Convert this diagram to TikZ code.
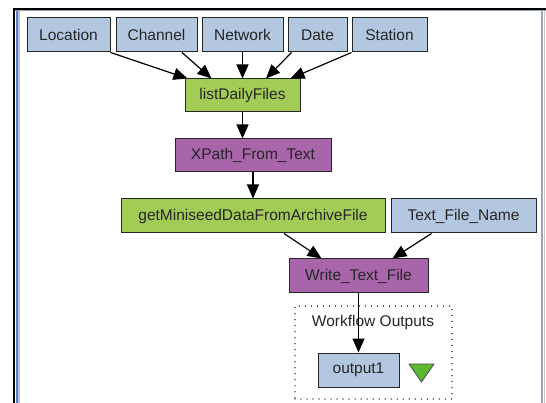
\documentclass[tikz,border=0pt]{standalone}
\usepackage{fontspec}
\setmainfont{Liberation Sans}
\usetikzlibrary{arrows.meta,calc}
\definecolor{inblue}{HTML}{B3C7E0}
\definecolor{procgreen}{HTML}{A3CC57}
\definecolor{procpurple}{HTML}{A865AA}
\definecolor{trigreen}{HTML}{5CB82E}
\definecolor{framegrey}{HTML}{9AA4B2}
\definecolor{frameblue}{HTML}{5A7BD0}
\tikzset{
  box/.style={draw=black!85, line width=1pt, minimum height=34pt, inner sep=0pt, font=\fontsize{15.5}{17}\selectfont, text=black!85},
  inbox/.style={box, fill=inblue},
  gbox/.style={box, fill=procgreen},
  pbox/.style={box, fill=procpurple},
  link/.style={line width=1.2pt, -{Triangle[length=14pt,width=12pt]}},
}
\begin{document}
\begin{tikzpicture}[x=1pt,y=-1pt]
\useasboundingbox (0,0) rectangle (546,403);
% window frame
\fill[white] (14,9) rectangle (542,403);
\draw[line width=2.5pt, black] (13,9) -- (546,9);
\draw[line width=1pt, framegrey] (15,11) -- (546,11);
\draw[line width=2pt, black] (14,9) -- (14,403);
\draw[line width=2pt, frameblue] (16.5,11) -- (16.5,403);
\draw[line width=2pt, framegrey!70] (19,11) -- (19,403);
\draw[line width=1.5pt, framegrey] (542,11) -- (542,403);
\draw[line width=1.2pt, framegrey!60] (544.5,11) -- (544.5,403);

% input nodes
\node[inbox, minimum width=83pt] (loc) at (68.5,35) {Location};
\node[inbox, minimum width=81pt] (chan) at (156.5,35) {Channel};
\node[inbox, minimum width=81pt] (net) at (242.5,35) {Network};
\node[inbox, minimum width=59pt] (date) at (317.5,35) {Date};
\node[inbox, minimum width=75pt] (stat) at (389.5,35) {Station};

\node[gbox, minimum width=115pt, minimum height=33pt] (ldf) at (242.5,95.5) {listDailyFiles};
\node[pbox, minimum width=156pt, minimum height=33pt] (xp) at (253,155.5) {XPath\_From\_Text};
\node[gbox, minimum width=264pt] (gm) at (253,216) {getMiniseedDataFromArchiveFile};
\node[inbox, minimum width=145pt] (tfn) at (463.5,216) {Text\_File\_Name};
\node[pbox, minimum width=139pt] (wtf) at (358.5,276) {Write\_Text\_File};

% workflow outputs
\node[draw=black!80, line width=1.2pt, dash pattern=on 0.01pt off 6pt, line cap=round, minimum width=157pt, minimum height=93pt, inner sep=0pt] (wo) at (373.5,352.5) {};
\node[font=\fontsize{15.5}{17}\selectfont, text=black!85] (wol) at (373,322) {Workflow Outputs};
\node[inbox, minimum width=81pt] (out) at (358.5,370) {output1};
\coordinate (t1) at (409,364);
\coordinate (t2) at (434,364);
\coordinate (t3) at (421.5,382);
\filldraw[fill=trigreen, draw=black!70, line width=0.8pt, line join=round] (t1) -- (t2) -- (t3) -- cycle;

% connectors
\draw[link] (loc.south east) -- ([xshift=3pt]ldf.north west);
\draw[link] ([xshift=25.5pt]chan.south) -- ([xshift=27pt]ldf.north west);
\draw[link] (net.south) -- (ldf.north);
\draw[link] ([xshift=4pt]date.south west) -- ([xshift=23.5pt]ldf.north);
\draw[link] (stat.south west) -- ([xshift=-10pt]ldf.north east);
\draw[link] (ldf.south) -- ([xshift=-10.5pt]xp.north);
\draw[link] (xp.south) -- (gm.north);
\draw[link] ([xshift=31pt]gm.south) -- ([xshift=33pt]wtf.north west);
\draw[link] ([xshift=41pt]tfn.south west) -- ([xshift=-36pt]wtf.north east);
\draw[link] (wtf.south) -- (out.north);
\end{tikzpicture}
\end{document}
